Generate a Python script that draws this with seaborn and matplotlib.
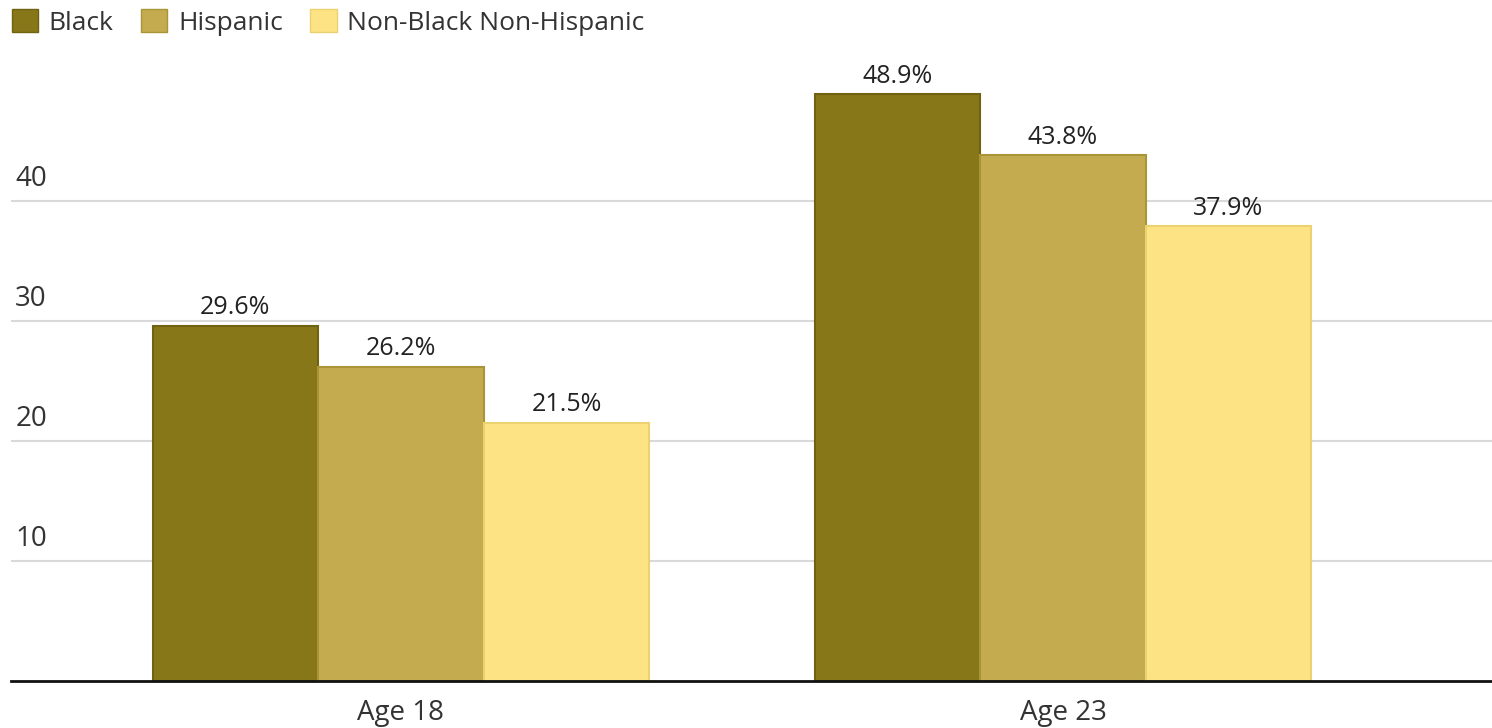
import matplotlib
matplotlib.use("Agg")
import matplotlib.pyplot as plt
import seaborn as sns
import pandas as pd
from matplotlib.patches import Patch

categories = ["Age 18", "Age 23"]
groups = ["Black", "Hispanic", "Non-Black Non-Hispanic"]
black = [29.6, 48.9]
hispanic = [26.2, 43.8]
non_black = [21.5, 37.9]
y_ticks = [10, 20, 30, 40]

colors = ["#877719", "#c4ab50", "#fde383"]
edges = ["#6f6210", "#a99438", "#ecd170"]

rows = []
for g, vals in zip(groups, [black, hispanic, non_black]):
    for c, v in zip(categories, vals):
        rows.append({"cat": c, "group": g, "value": v})
df = pd.DataFrame(rows)

sns.set_theme(style="white")
plt.rcParams["font.family"] = ["Open Sans", "DejaVu Sans"]

fig = plt.figure(figsize=(14.92, 7.28), dpi=100)
ax = fig.add_axes([11 / 1492, 47 / 728, 1 - 11 / 1492, 672 / 728])

sns.barplot(data=df, x="cat", y="value", hue="group", order=categories,
            hue_order=groups, palette=colors, width=0.75, gap=0,
            ax=ax, legend=False, saturation=1)

for container, ec in zip(ax.containers, edges):
    for patch in container:
        patch.set_edgecolor(ec)
        patch.set_linewidth(1.5)
    ax.bar_label(container, labels=[f"{v:.1f}%" for v in container.datavalues],
                 padding=4, fontsize=18, color="#222222")

ax.set_xlim(-0.589, 1.648)
ax.set_ylim(0, 56)
ax.set_yticks(y_ticks)
ax.set_yticklabels([])
ax.tick_params(axis="y", length=0)
ax.yaxis.grid(True, color="#d9d9d9", linewidth=1.5)
ax.set_axisbelow(True)
for t in y_ticks:
    ax.annotate(str(t), xy=(0.0, t), xycoords=("axes fraction", "data"),
                xytext=(3, 6), textcoords="offset points", ha="left", va="bottom",
                fontsize=20, color="#333333")

ax.set_xlabel("")
ax.set_ylabel("")
ax.tick_params(axis="x", length=0, pad=13, labelsize=20, labelcolor="#333333")
for s in ["top", "right", "left"]:
    ax.spines[s].set_visible(False)
ax.spines["bottom"].set_color("#111111")
ax.spines["bottom"].set_linewidth(2)

handles = [Patch(facecolor=c, edgecolor=e, linewidth=1) for c, e in zip(colors, edges)]
fig.legend(handles, groups, loc="upper left", bbox_to_anchor=(-0.002, 1.008), ncol=3,
           frameon=False, fontsize=19, handlelength=1.0, handleheight=1.0,
           handletextpad=0.4, columnspacing=1.05, borderaxespad=0.15, labelcolor="#333333")

fig.savefig("out.png", dpi=100)
